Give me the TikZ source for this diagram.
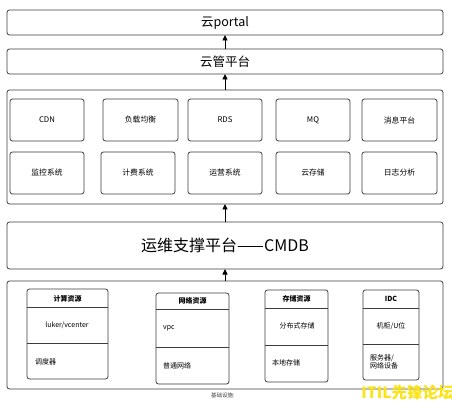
\documentclass[tikz,border=0pt]{standalone}
\usepackage{fontspec}
\setmainfont{Noto Sans CJK SC}
\usetikzlibrary{arrows.meta}
\definecolor{edge}{RGB}{60,60,60}
\definecolor{wm}{RGB}{250,228,20}
\tikzset{
  box/.style={draw=edge, line width=0.8pt, rounded corners=2.5pt, inner sep=0pt, outer sep=0pt, fill=white},
  cell/.style={box, minimum width=74pt, minimum height=42pt, font=\fontsize{7.8}{8}\selectfont},
  res/.style={box},
  item/.style={inner sep=0pt, font=\fontsize{7}{8.5}\selectfont, align=left},
  head/.style={inner sep=0pt, font=\bfseries\fontsize{7}{8}\selectfont},
  up/.style={-{Triangle[length=5.5pt,width=5pt]}, line width=0.9pt, draw=black},
}
\begin{document}
\begin{tikzpicture}[x=1pt,y=-1pt]
\fill[white] (0,0) rectangle (452,403);
\useasboundingbox (0,0) rectangle (452,403);
% top layers
\node[box, minimum width=436pt, minimum height=25pt, font=\fontsize{12.5}{14}\selectfont] (portal) at (225,22.5) {云portal};
\node[box, minimum width=436pt, minimum height=25pt, font=\fontsize{12.5}{14}\selectfont] (mgmt) at (225,61.5) {云管平台};
% service container
\node[box, minimum width=436pt, minimum height=114pt] (svc) at (225,147) {};
\node[cell] (cdn) at (47,120) {CDN};
\node[cell, minimum width=75pt] (lb) at (140.5,120) {负载均衡};
\node[cell] (rds) at (225,120) {RDS};
\node[cell] (mq) at (313,120) {MQ};
\node[cell, minimum width=75pt] (msg) at (399.5,120) {消息平台};
\node[cell] (mon) at (47,173) {监控系统};
\node[cell] (bill) at (138,173) {计费系统};
\node[cell] (ops) at (225,173) {运营系统};
\node[cell] (stor) at (313,173) {云存储};
\node[cell, minimum width=75pt] (log) at (399.5,173) {日志分析};
% CMDB
\node[box, minimum width=436pt, minimum height=47pt, font=\fontsize{16}{18}\selectfont] (cmdb) at (225,245.5) {运维支撑平台——CMDB};
% infrastructure container
\node[box, minimum width=436pt, minimum height=108pt] (infra) at (225,335) {};
\node[inner sep=0pt, font=\fontsize{5.5}{6}\selectfont, text=black!75] (infralbl) at (223,395) {基础设施:};
% compute
\node[res, minimum width=81pt, minimum height=90pt] (calc) at (67.5,334) {};
\draw[draw=edge, line width=0.8pt] (calc.west |- 0,307) -- (calc.east |- 0,307);
\draw[draw=edge, line width=0.8pt] (calc.west |- 0,343) -- (calc.east |- 0,343);
\node[head] (calch) at (67.5,299) {计算资源};
\node[item] (calc1) at (67,325) {luker/vcenter};
\node[item, anchor=west] (calc2) at (35,362) {调度器};
% network
\node[res, minimum width=73pt, minimum height=91pt] (net) at (192.5,338.5) {};
\draw[draw=edge, line width=0.8pt] (net.west |- 0,309) -- (net.east |- 0,309);
\draw[draw=edge, line width=0.8pt] (net.west |- 0,347) -- (net.east |- 0,347);
\node[head] (neth) at (192.5,300.5) {网络资源};
\node[item, anchor=west] (net1) at (163,328) {vpc};
\node[item, anchor=west] (net2) at (163,366) {普通网络};
% storage
\node[res, minimum width=63pt, minimum height=92pt] (sto) at (296.5,336) {};
\draw[draw=edge, line width=0.8pt] (sto.west |- 0,308) -- (sto.east |- 0,308);
\draw[draw=edge, line width=0.8pt] (sto.west |- 0,345) -- (sto.east |- 0,345);
\node[head] (stoh) at (296.5,299) {存储资源};
\node[item] (sto1) at (297,326) {分布式存储};
\node[item, anchor=west] (sto2) at (272,363) {本地存储};
% IDC
\node[res, minimum width=56pt, minimum height=90pt] (idc) at (391,335) {};
\draw[draw=edge, line width=0.8pt] (idc.west |- 0,308) -- (idc.east |- 0,308);
\draw[draw=edge, line width=0.8pt] (idc.west |- 0,344) -- (idc.east |- 0,344);
\node[head] (idch) at (391,299) {IDC};
\node[item] (idc1) at (391,326) {机柜/U位};
\node[item, anchor=west] (idc2) at (370,362) {服务器/\\网络设备};
% arrows
\draw[up] (mgmt.north) -- (portal.south);
\draw[up] (svc.north) -- (mgmt.south);
\draw[up] (cmdb.north) -- (svc.south);
\draw[up] (infra.north) -- (cmdb.south);
% watermark
\node[inner sep=0pt, font=\bfseries\fontsize{15.5}{16}\selectfont, text=wm] (wmk) at (407.5,393) {ITIL先锋论坛};
\end{tikzpicture}
\end{document}
